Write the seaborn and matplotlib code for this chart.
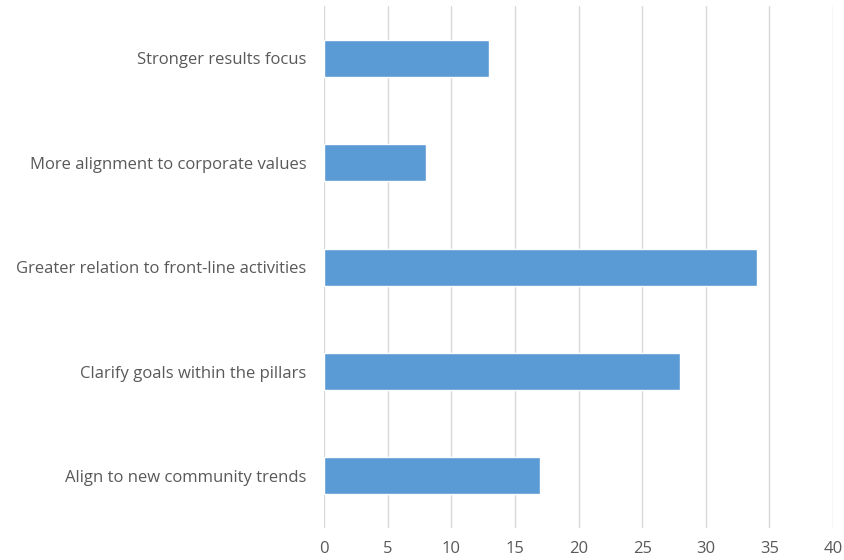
import matplotlib
matplotlib.use("Agg")
import matplotlib.pyplot as plt
import seaborn as sns
import pandas as pd

categories = [
    "Stronger results focus",
    "More alignment to corporate values",
    "Greater relation to front-line activities",
    "Clarify goals within the pillars",
    "Align to new community trends",
]
values = [13, 8, 34, 28, 17]
x_ticks = [0, 5, 10, 15, 20, 25, 30, 35, 40]

df = pd.DataFrame({"item": categories, "count": values})

sns.set_theme(style="white")
plt.rcParams["font.family"] = ["Open Sans", "DejaVu Sans"]

fig = plt.figure(figsize=(8.44, 5.6), dpi=100)
ax = fig.add_axes([0.384, 0.057, 0.603, 0.932])

sns.barplot(data=df, y="item", x="count", orient="h", color="#5B9BD5",
            width=0.355, saturation=1, ax=ax)

ax.set_xlim(0, 40)
ax.set_xticks(x_ticks)
ax.xaxis.grid(True, color="#D9D9D9", linewidth=1)
ax.set_axisbelow(True)
for s in ax.spines.values():
    s.set_visible(False)
ax.tick_params(axis="both", length=0, colors="#595959", labelsize=12)
ax.tick_params(axis="x", pad=9)
ax.tick_params(axis="y", pad=12.5)
ax.set_xlabel("")
ax.set_ylabel("")

fig.savefig("out.png", dpi=100, facecolor="white")
